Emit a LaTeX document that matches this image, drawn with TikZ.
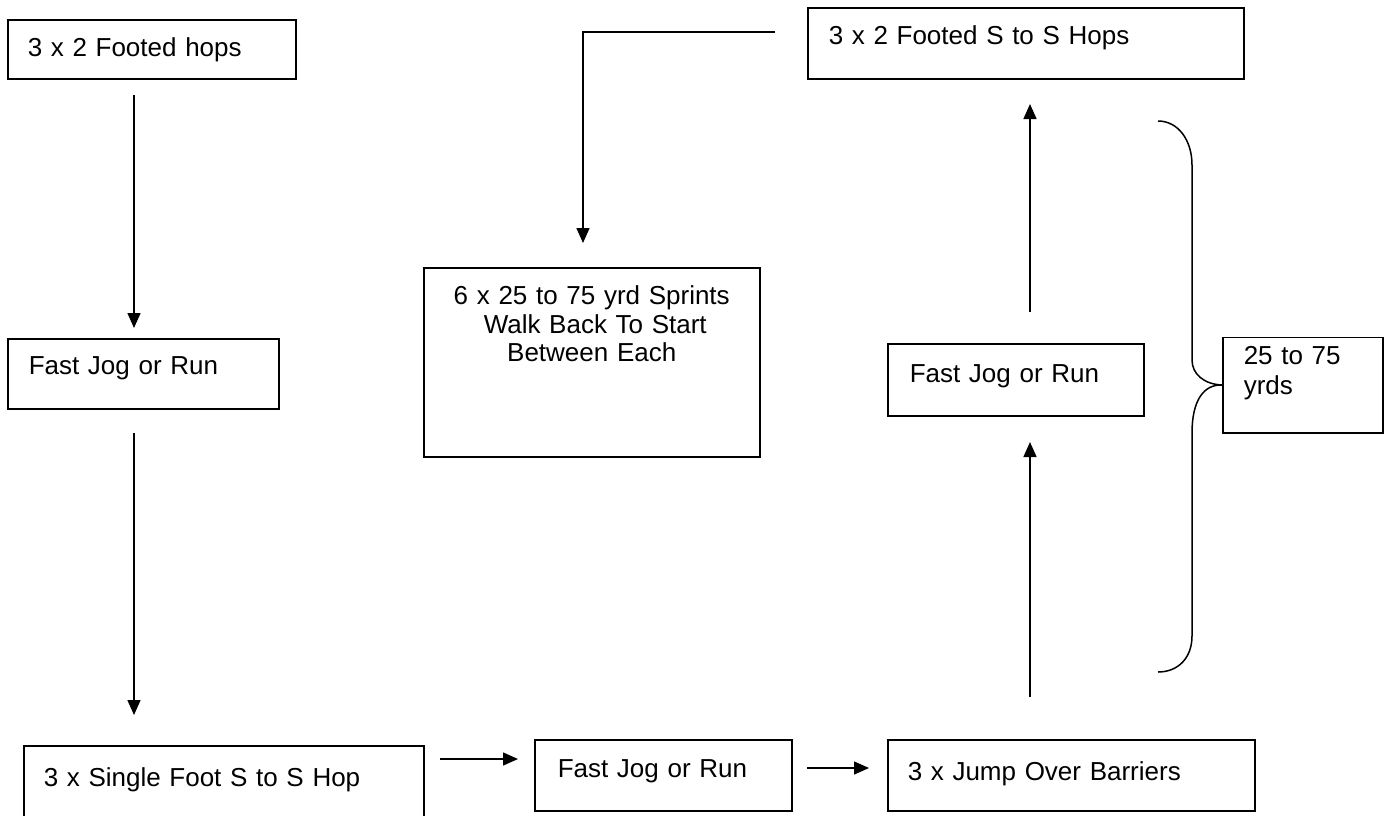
\documentclass[tikz,border=0pt]{standalone}
\usepackage{fontspec}
\setmainfont{Liberation Sans}
\usetikzlibrary{arrows.meta}
\begin{document}
\begin{tikzpicture}[x=1pt,y=-1pt,
  box/.style={draw, line width=1.5pt, anchor=north west, inner ysep=0pt, align=left,
    font=\fontsize{26}{30}\selectfont},
  cbox/.style={box, align=center, font=\fontsize{26}{28.5}\selectfont},
  arr/.style={line width=1.5pt, -{Triangle[length=15pt,width=13pt]}},
  ln/.style={line width=1.5pt}]
\useasboundingbox (0,0) rectangle (1389,815);
\fill[white] (0,0) rectangle (1389,815);

% boxes
\node[box, inner xsep=20pt, text width=248pt, text height=37pt, text depth=22pt] (b1) at (7,19) {3 x 2 Footed hops};
\node[box, inner xsep=21pt, text width=229pt, text height=36pt, text depth=34pt] (b2) at (7,338) {Fast Jog or Run};
\node[box, inner xsep=20pt, text width=360pt, text height=41pt, text depth=44pt] (b3) at (23,745) {3 x Single Foot S to S Hop};
\node[box, inner xsep=23pt, text width=211pt, text height=38pt, text depth=33pt] (b4) at (534,739) {Fast Jog or Run};
\node[box, inner xsep=20pt, text width=327pt, text height=41pt, text depth=30pt] (b5) at (887,739) {3 x Jump Over Barriers};
\node[box, inner xsep=22pt, text width=212pt, text height=39pt, text depth=33pt] (b6) at (887,343) {Fast Jog or Run};
\node[box, inner xsep=21pt, text width=394pt, text height=37pt, text depth=34pt] (b7) at (807,7) {3 x 2 Footed S to S Hops};
\node[cbox, inner xsep=0pt, text width=336pt, text height=37pt, text depth=152pt] (b8) at (423,267) {6 x 25 to 75 yrd Sprints\\\hspace*{7pt}Walk Back To Start\\Between Each};
\node[box, inner xsep=21pt, text width=118pt, text height=27.5pt, text depth=68pt] (b9) at (1222,336.5) {25 to 75\\yrds};

% connector end points
\coordinate (a1s) at (134,95);   \coordinate (a1e) at (134,328);
\coordinate (a2s) at (134,433);  \coordinate (a2e) at (134,715);
\coordinate (a3s) at (440,759);  \coordinate (a3e) at (518,759);
\coordinate (a4s) at (807,768);  \coordinate (a4e) at (869,768);
\coordinate (a5s) at (1030,697); \coordinate (a5e) at (1030,442);
\coordinate (a6s) at (1030,312); \coordinate (a6e) at (1030,104);
\coordinate (a7s) at (775,32);   \coordinate (a7e) at (583,243);

\draw[arr] (a1s) -- (a1e);
\draw[arr] (a2s) -- (a2e);
\draw[arr] (a3s) -- (a3e);
\draw[arr] (a4s) -- (a4e);
\draw[arr] (a5s) -- (a5e);
\draw[arr] (a6s) -- (a6e);
\draw[arr] (a7s) -| (a7e);

% brace
\draw[ln] (1158,121) .. controls (1178,121) and (1192,140) .. (1192,165)
  -- (1192,360) .. controls (1192,374) and (1204,384.25) .. (b9.west)
  .. controls (1204,384.25) and (1192,400) .. (1192,433)
  -- (1192,636) .. controls (1192,658) and (1178,672) .. (1158,672);
\end{tikzpicture}
\end{document}
